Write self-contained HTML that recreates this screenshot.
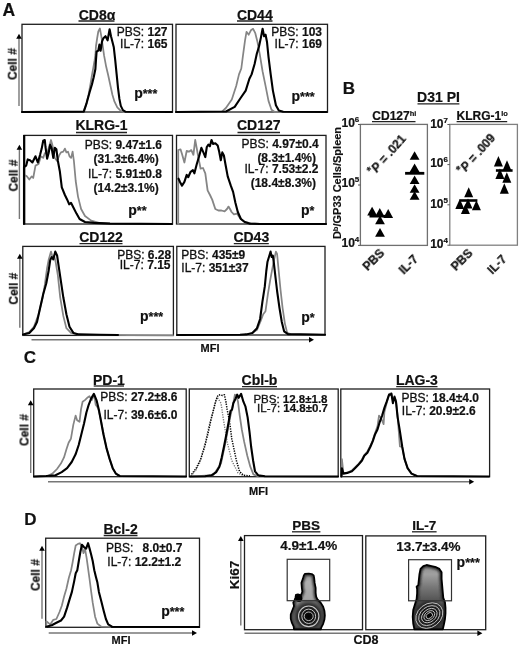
<!DOCTYPE html>
<html><head><meta charset="utf-8"><style>
html,body{margin:0;padding:0;background:#fff;}
svg{display:block;font-family:"Liberation Sans", sans-serif;} text{will-change:transform;stroke:#111;stroke-width:0.3px;} text[font-weight=bold],tspan[font-weight=bold]{stroke-width:0.2px;}
</style></head><body>
<svg width="520" height="646" viewBox="0 0 520 646">
<rect width="520" height="646" fill="#fff"/>
<text x="2.6" y="15.6" font-size="17.5" font-weight="bold" text-anchor="start" fill="#111" >A</text>
<rect x="22" y="24.3" width="150.5" height="87.7" fill="none" stroke="#1e1e1e" stroke-width="1.3"/>
<rect x="176" y="24.3" width="151.5" height="87.7" fill="none" stroke="#1e1e1e" stroke-width="1.3"/>
<text x="97" y="19.5" font-size="14" font-weight="bold" text-anchor="middle" fill="#111" >CD8α</text>
<line x1="78.5" y1="21" x2="114.5" y2="21" stroke="#222" stroke-width="1.3" />
<text x="254.8" y="19.5" font-size="14" font-weight="bold" text-anchor="middle" fill="#111" >CD44</text>
<line x1="237" y1="21" x2="272.5" y2="21" stroke="#222" stroke-width="1.3" />
<line x1="19" y1="37.8" x2="19" y2="106" stroke="#777" stroke-width="1.4" />
<path d="M16.2,38.8 L19,33.8 L21.8,38.8 Z" fill="#000"/>
<text x="16.7" y="64" font-size="12" font-weight="bold" text-anchor="middle" fill="#111" transform="rotate(-90 16.7 64)">Cell #</text>
<path d="M22.0,112.0 L83.5,111.6 L86.0,105.0 L88.5,95.0 L90.5,84.0 L92.0,74.9 L93.1,69.0 L94.5,61.0 L95.4,55.0 L96.0,46.0 L97.2,38.0 L98.3,31.5 L99.9,28.5 L101.3,36.2 L102.7,45.9 L104.1,55.7 L106.2,66.8 L108.2,75.2 L110.3,85.0 L112.4,94.7 L114.5,101.7 L117.3,107.3 L120.8,110.8 L123.6,112.0 L172.0,112.2" fill="none" stroke="#858585" stroke-width="1.75" stroke-linejoin="round" stroke-linecap="round" />
<path d="M22.0,112.0 L83.8,111.6 L86.7,102.8 L89.6,92.3 L92.0,84.2 L93.7,77.2 L95.4,69.0 L96.0,59.8 L96.6,51.6 L98.3,50.5 L99.4,44.6 L100.6,50.8 L102.0,41.7 L103.4,38.2 L105.5,36.2 L107.6,40.3 L109.6,29.2 L111.0,36.2 L112.4,41.7 L113.8,47.3 L115.2,59.9 L116.6,73.8 L118.0,87.8 L119.4,98.9 L120.8,105.9 L122.9,110.1 L125.7,111.8 L172.0,112.0" fill="none" stroke="#000" stroke-width="2.1" stroke-linejoin="round" stroke-linecap="round" />
<path d="M176.0,112.0 L222.0,111.7 L225.9,108.0 L231.8,99.4 L236.2,86.0 L239.0,74.4 L241.3,68.5 L242.8,56.8 L245.0,40.6 L246.5,31.8 L248.7,34.7 L250.9,30.3 L253.1,28.8 L255.3,33.2 L257.5,42.0 L259.7,53.8 L262.6,71.5 L265.6,86.2 L268.5,100.9 L271.5,109.7 L274.4,111.8 L327.0,112.0" fill="none" stroke="#858585" stroke-width="1.75" stroke-linejoin="round" stroke-linecap="round" />
<path d="M176.0,112.0 L226.0,111.5 L234.7,106.8 L240.6,98.0 L245.7,90.6 L249.4,78.8 L251.6,74.4 L254.6,64.0 L256.8,53.8 L259.0,46.5 L260.9,37.6 L262.6,28.8 L264.1,36.2 L265.6,34.7 L267.0,42.0 L268.5,56.8 L270.7,74.4 L272.9,90.6 L275.9,105.3 L278.8,110.4 L283.2,111.8 L327.0,112.0" fill="none" stroke="#000" stroke-width="2.1" stroke-linejoin="round" stroke-linecap="round" />
<text x="167.5" y="36.3" font-size="12" font-weight="normal" text-anchor="end" fill="#111" >PBS: <tspan font-weight="bold">127</tspan></text>
<text x="167.5" y="48" font-size="12" font-weight="normal" text-anchor="end" fill="#111" >IL-7: <tspan font-weight="bold">165</tspan></text>
<text x="134.2" y="97.8" font-size="14" font-weight="bold" text-anchor="start" fill="#111" >p<tspan font-size="12.5">***</tspan></text>
<text x="322" y="36.3" font-size="12" font-weight="normal" text-anchor="end" fill="#111" >PBS: <tspan font-weight="bold">103</tspan></text>
<text x="322" y="48" font-size="12" font-weight="normal" text-anchor="end" fill="#111" >IL-7: <tspan font-weight="bold">169</tspan></text>
<text x="291.5" y="101" font-size="14" font-weight="bold" text-anchor="start" fill="#111" >p<tspan font-size="12.5">***</tspan></text>
<rect x="24" y="135.4" width="148.5" height="88.6" fill="none" stroke="#1e1e1e" stroke-width="1.3"/>
<line x1="24.2" y1="135" x2="24.2" y2="224.5" stroke="#000" stroke-width="2.2" />
<rect x="176.5" y="135.4" width="149.5" height="88.6" fill="none" stroke="#1e1e1e" stroke-width="1.3"/>
<text x="101.5" y="130" font-size="14" font-weight="bold" text-anchor="middle" fill="#111" >KLRG-1</text>
<line x1="76" y1="132.5" x2="127" y2="132.5" stroke="#222" stroke-width="1.3" />
<text x="258.8" y="130" font-size="14" font-weight="bold" text-anchor="middle" fill="#111" >CD127</text>
<line x1="237.5" y1="132.5" x2="280" y2="132.5" stroke="#222" stroke-width="1.3" />
<line x1="19.4" y1="148.7" x2="19.4" y2="219" stroke="#777" stroke-width="1.4" />
<path d="M16.599999999999998,149.7 L19.4,144.7 L22.2,149.7 Z" fill="#000"/>
<text x="17.2" y="175.5" font-size="12" font-weight="bold" text-anchor="middle" fill="#111" transform="rotate(-90 17.2 175.5)">Cell #</text>
<path d="M24.0,224.0 L24.0,174.9 L27.0,176.4 L29.3,179.5 L31.6,176.4 L33.2,178.0 L35.5,165.6 L38.6,164.0 L40.9,156.3 L43.2,157.9 L44.8,153.2 L47.1,153.2 L49.4,145.5 L51.0,140.0 L52.5,145.5 L54.8,157.9 L57.1,161.0 L59.5,154.8 L61.0,152.4 L63.3,151.7 L64.9,148.6 L66.4,152.4 L68.0,151.7 L69.5,156.3 L71.1,157.9 L72.6,151.7 L73.9,161.0 L75.7,181.0 L78.0,196.6 L81.1,209.0 L85.0,216.0 L91.2,220.6 L99.0,222.9 L110.0,223.6 L172.0,224.0" fill="none" stroke="#858585" stroke-width="1.75" stroke-linejoin="round" stroke-linecap="round" />
<path d="M24.0,224.0 L24.0,167.0 L26.2,165.6 L27.7,159.4 L30.0,160.2 L32.4,162.5 L35.5,156.3 L37.8,162.5 L40.1,154.8 L41.7,148.6 L43.2,140.8 L44.8,140.0 L45.5,147.0 L47.1,158.6 L48.6,153.2 L50.2,144.7 L51.7,148.6 L53.3,157.9 L54.8,147.8 L56.4,149.3 L57.9,161.0 L59.9,171.8 L61.8,187.3 L64.9,195.0 L67.2,199.7 L69.2,204.3 L71.0,202.8 L73.4,207.4 L76.5,213.6 L79.6,219.0 L85.0,222.0 L94.3,222.9 L110.0,223.6 L172.0,224.0" fill="none" stroke="#000" stroke-width="2.1" stroke-linejoin="round" stroke-linecap="round" />
<path d="M178.2,224.0 L178.2,150.0 L180.5,149.3 L182.0,154.0 L184.4,162.5 L186.7,150.9 L189.0,151.7 L191.3,150.1 L193.4,154.8 L195.2,140.0 L196.8,148.6 L198.3,157.1 L200.6,168.7 L203.0,168.0 L205.3,173.3 L207.6,190.4 L210.0,195.0 L212.2,199.6 L215.3,209.0 L218.4,210.5 L221.5,210.5 L224.6,211.3 L227.0,209.0 L228.5,206.6 L230.0,209.0 L231.6,212.0 L233.9,214.4 L237.0,213.6 L240.1,218.2 L244.7,222.0 L251.0,223.3 L260.0,223.8 L326.0,224.0" fill="none" stroke="#858585" stroke-width="1.8" stroke-linejoin="round" stroke-linecap="round" />
<path d="M178.5,178.7 L180.0,182.0 L182.0,185.7 L184.4,181.9 L186.7,174.9 L188.2,177.2 L190.6,171.8 L192.9,170.2 L194.4,173.3 L196.8,164.0 L199.1,156.3 L201.4,147.8 L203.7,153.2 L205.3,157.1 L206.8,147.0 L208.4,144.7 L209.9,146.3 L211.5,140.0 L213.0,143.9 L215.3,143.2 L217.7,145.5 L219.2,151.7 L220.8,160.2 L222.3,152.4 L223.9,155.5 L225.4,164.0 L227.7,176.4 L230.8,185.7 L233.1,191.9 L235.4,202.8 L237.8,212.0 L240.9,219.0 L244.7,222.0 L249.4,223.6 L260.0,224.0 L326.0,224.0" fill="none" stroke="#000" stroke-width="2.1" stroke-linejoin="round" stroke-linecap="round" />
<text x="162" y="148.7" font-size="12" font-weight="normal" text-anchor="end" fill="#111" >PBS: <tspan font-weight="bold">9.47±1.6</tspan></text>
<text x="158.8" y="163" font-size="12" font-weight="normal" text-anchor="end" fill="#111" ><tspan font-weight="bold">(31.3±6.4%)</tspan></text>
<text x="162" y="178" font-size="12" font-weight="normal" text-anchor="end" fill="#111" >IL-7: <tspan font-weight="bold">5.91±0.8</tspan></text>
<text x="158.8" y="192" font-size="12" font-weight="normal" text-anchor="end" fill="#111" ><tspan font-weight="bold">(14.2±3.1%)</tspan></text>
<text x="128.3" y="214.6" font-size="14" font-weight="bold" text-anchor="start" fill="#111" >p<tspan font-size="12.5">**</tspan></text>
<text x="318.8" y="147.5" font-size="12" font-weight="normal" text-anchor="end" fill="#111" >PBS: <tspan font-weight="bold">4.97±0.4</tspan></text>
<text x="316" y="161.8" font-size="12" font-weight="normal" text-anchor="end" fill="#111" ><tspan font-weight="bold">(8.3±1.4%)</tspan></text>
<text x="318.5" y="173.3" font-size="12" font-weight="normal" text-anchor="end" fill="#111" >IL-7: <tspan font-weight="bold">7.53±2.2</tspan></text>
<text x="316" y="186.5" font-size="12" font-weight="normal" text-anchor="end" fill="#111" ><tspan font-weight="bold">(18.4±8.3%)</tspan></text>
<text x="301" y="214.6" font-size="14" font-weight="bold" text-anchor="start" fill="#111" >p<tspan font-size="12.5">*</tspan></text>
<rect x="22.8" y="246.4" width="150.6" height="88.99999999999997" fill="none" stroke="#1e1e1e" stroke-width="1.3"/>
<rect x="176.8" y="246.4" width="148.2" height="88.6" fill="none" stroke="#1e1e1e" stroke-width="1.3"/>
<text x="101" y="242" font-size="14" font-weight="bold" text-anchor="middle" fill="#111" >CD122</text>
<line x1="79.5" y1="243.7" x2="122.5" y2="243.7" stroke="#222" stroke-width="1.3" />
<text x="251.3" y="242" font-size="14" font-weight="bold" text-anchor="middle" fill="#111" >CD43</text>
<line x1="233.8" y1="243.7" x2="268.8" y2="243.7" stroke="#222" stroke-width="1.3" />
<line x1="19.8" y1="257.8" x2="19.8" y2="327.8" stroke="#777" stroke-width="1.4" />
<path d="M17.0,258.8 L19.8,253.8 L22.6,258.8 Z" fill="#000"/>
<text x="17.5" y="288.7" font-size="12" font-weight="bold" text-anchor="middle" fill="#111" transform="rotate(-90 17.5 288.7)">Cell #</text>
<path d="M23.0,334.5 L29.3,332.0 L33.9,326.7 L38.6,314.3 L42.4,298.8 L44.8,284.9 L47.1,267.9 L48.6,260.1 L51.0,251.6 L52.5,257.0 L54.0,255.5 L55.6,261.7 L57.9,275.6 L60.2,297.3 L63.3,315.9 L66.4,328.2 L71.0,332.9 L78.8,334.6 L130.0,335.2 L173.0,335.4" fill="none" stroke="#858585" stroke-width="1.75" stroke-linejoin="round" stroke-linecap="round" />
<path d="M23.0,334.5 L29.3,332.9 L33.9,328.2 L37.0,322.0 L40.1,308.0 L43.2,294.2 L46.3,283.3 L48.6,271.0 L50.2,260.1 L51.7,257.0 L53.3,259.3 L55.3,251.6 L57.1,255.5 L58.7,266.3 L61.0,281.8 L63.3,297.3 L66.4,314.3 L69.5,326.7 L73.4,332.9 L78.8,334.4 L100.0,334.8 L118.0,335.0" fill="none" stroke="#000" stroke-width="2.1" stroke-linejoin="round" stroke-linecap="round" />
<path d="M177.0,335.0 L245.0,334.7 L250.8,334.0 L257.0,329.8 L260.9,320.5 L263.2,314.3 L265.5,311.2 L267.9,294.2 L270.2,280.2 L272.2,269.4 L274.0,260.1 L275.9,251.6 L277.1,254.0 L278.7,271.0 L280.5,289.5 L282.6,308.1 L284.9,323.6 L287.2,332.9 L291.0,334.4 L325.0,334.8" fill="none" stroke="#858585" stroke-width="1.75" stroke-linejoin="round" stroke-linecap="round" />
<path d="M177.0,335.0 L240.0,334.7 L246.2,334.4 L252.4,332.9 L257.0,328.2 L260.1,319.0 L262.4,301.9 L264.8,286.4 L266.3,271.0 L267.5,261.7 L269.4,255.5 L270.6,251.6 L271.7,257.0 L272.8,255.5 L273.7,261.7 L275.3,275.6 L277.1,291.0 L279.5,308.1 L281.8,322.0 L284.1,331.3 L288.0,334.1 L325.0,334.8" fill="none" stroke="#000" stroke-width="2.1" stroke-linejoin="round" stroke-linecap="round" />
<text x="171.2" y="258.7" font-size="12" font-weight="normal" text-anchor="end" fill="#111" >PBS: <tspan font-weight="bold">6.28</tspan></text>
<text x="170.5" y="268.7" font-size="12" font-weight="normal" text-anchor="end" fill="#111" >IL-7: <tspan font-weight="bold">7.15</tspan></text>
<text x="140" y="320.5" font-size="14" font-weight="bold" text-anchor="start" fill="#111" >p<tspan font-size="12.5">***</tspan></text>
<text x="181.3" y="258.7" font-size="12" font-weight="normal" text-anchor="start" fill="#111" >PBS: <tspan font-weight="bold">435±9</tspan></text>
<text x="181.3" y="272.3" font-size="12" font-weight="normal" text-anchor="start" fill="#111" >IL-7: <tspan font-weight="bold">351±37</tspan></text>
<text x="301.2" y="322" font-size="14" font-weight="bold" text-anchor="start" fill="#111" >p<tspan font-size="12.5">*</tspan></text>
<line x1="31.5" y1="339.7" x2="310" y2="339.7" stroke="#777" stroke-width="1.4" />
<path d="M309,336.9 L314,339.7 L309,342.5 Z" fill="#000"/>
<text x="210" y="352.3" font-size="11" font-weight="bold" text-anchor="middle" fill="#111" >MFI</text>
<text x="342.8" y="93.6" font-size="17" font-weight="bold" text-anchor="start" fill="#111" >B</text>
<text x="438.5" y="102.2" font-size="14" font-weight="bold" text-anchor="middle" fill="#111" >D31 PI</text>
<line x1="417.5" y1="103.8" x2="459.4" y2="103.8" stroke="#222" stroke-width="1.3" />
<text x="372.3" y="120" font-size="12" font-weight="bold" text-anchor="start" fill="#111" >CD127<tspan font-size="7.5" dy="-4">hi</tspan></text>
<line x1="372" y1="121.6" x2="415.5" y2="121.6" stroke="#222" stroke-width="1.3" />
<text x="456.6" y="119.9" font-size="12" font-weight="bold" text-anchor="start" fill="#111" >KLRG-1<tspan font-size="7.5" dy="-4">lo</tspan></text>
<line x1="456.6" y1="121.6" x2="507.2" y2="121.6" stroke="#222" stroke-width="1.3" />
<rect x="360.4" y="124.4" width="67.0" height="121.0" fill="none" stroke="#707070" stroke-width="1.3"/>
<rect x="449.8" y="124.4" width="67.59999999999997" height="120.79999999999998" fill="none" stroke="#808080" stroke-width="1.3"/>
<text x="359.3" y="126.5" font-size="12" font-weight="bold" text-anchor="end" fill="#111" >10<tspan font-size="8" dy="-5">6</tspan></text>
<text x="359.3" y="187.2" font-size="12" font-weight="bold" text-anchor="end" fill="#111" >10<tspan font-size="8" dy="-5">5</tspan></text>
<text x="359.3" y="246.8" font-size="12" font-weight="bold" text-anchor="end" fill="#111" >10<tspan font-size="8" dy="-5">4</tspan></text>
<text x="448" y="127.6" font-size="12" font-weight="bold" text-anchor="end" fill="#111" >10<tspan font-size="8" dy="-5">7</tspan></text>
<text x="448" y="167.4" font-size="12" font-weight="bold" text-anchor="end" fill="#111" >10<tspan font-size="8" dy="-5">6</tspan></text>
<text x="448" y="208" font-size="12" font-weight="bold" text-anchor="end" fill="#111" >10<tspan font-size="8" dy="-5">5</tspan></text>
<text x="448" y="248" font-size="12" font-weight="bold" text-anchor="end" fill="#111" >10<tspan font-size="8" dy="-5">4</tspan></text>
<line x1="358" y1="124.5" x2="360.4" y2="124.5" stroke="#555" stroke-width="1" />
<line x1="358" y1="185" x2="360.4" y2="185" stroke="#555" stroke-width="1" />
<line x1="358" y1="245.4" x2="360.4" y2="245.4" stroke="#555" stroke-width="1" />
<line x1="447.4" y1="124.5" x2="449.8" y2="124.5" stroke="#555" stroke-width="1" />
<line x1="447.4" y1="164.6" x2="449.8" y2="164.6" stroke="#555" stroke-width="1" />
<line x1="447.4" y1="204.8" x2="449.8" y2="204.8" stroke="#555" stroke-width="1" />
<line x1="447.4" y1="245.2" x2="449.8" y2="245.2" stroke="#555" stroke-width="1" />
<text x="341" y="183" font-size="11" font-weight="bold" text-anchor="middle" fill="#111" transform="rotate(-90 341 183)">D<tspan font-size="7.5" dy="-3.5">b</tspan><tspan dy="3.5">/GP33 Cells/Spleen</tspan></text>
<path d="M367.2,215.5 L372.1,206.7 L377.0,215.5 Z" fill="#000"/>
<path d="M374.9,216.9 L379.8,208.1 L384.7,216.9 Z" fill="#000"/>
<path d="M383.3,217.9 L388.2,209.1 L393.1,217.9 Z" fill="#000"/>
<path d="M375.1,224.3 L380.0,215.5 L384.9,224.3 Z" fill="#000"/>
<path d="M375.1,236.7 L380.0,227.9 L384.9,236.7 Z" fill="#000"/>
<line x1="369.5" y1="216.2" x2="391" y2="216.2" stroke="#000" stroke-width="2.6" />
<path d="M409.7,159.8 L414.6,151.2 L419.5,159.8 Z" fill="#000"/>
<path d="M409.7,172.1 L414.6,163.5 L419.5,172.1 Z" fill="#000"/>
<path d="M409.7,184.1 L414.6,175.5 L419.5,184.1 Z" fill="#000"/>
<path d="M409.7,192.8 L414.6,184.2 L419.5,192.8 Z" fill="#000"/>
<path d="M409.7,199.8 L414.6,191.2 L419.5,199.8 Z" fill="#000"/>
<line x1="405.1" y1="173.3" x2="424.3" y2="173.3" stroke="#000" stroke-width="2.8" />
<path d="M464.2,197.3 L468.7,187.3 L473.2,197.3 Z" fill="#000"/>
<path d="M455.3,208.9 L459.8,198.9 L464.3,208.9 Z" fill="#000"/>
<path d="M471.9,210.2 L476.4,200.2 L480.9,210.2 Z" fill="#000"/>
<path d="M460.9,214.0 L465.4,204.0 L469.9,214.0 Z" fill="#000"/>
<path d="M463.5,208.5 L468.0,198.5 L472.5,208.5 Z" fill="#000"/>
<line x1="459.5" y1="200.5" x2="477.4" y2="200.5" stroke="#000" stroke-width="2.6" />
<path d="M493.9,166.4 L498.4,155.9 L502.9,166.4 Z" fill="#000"/>
<path d="M502.5,170.7 L507.0,160.2 L511.5,170.7 Z" fill="#000"/>
<path d="M495.4,178.9 L499.9,168.4 L504.4,178.9 Z" fill="#000"/>
<path d="M502.3,182.8 L506.8,172.2 L511.3,182.8 Z" fill="#000"/>
<path d="M499.8,193.8 L504.3,183.2 L508.8,193.8 Z" fill="#000"/>
<line x1="495.9" y1="170.5" x2="512.6" y2="170.5" stroke="#000" stroke-width="2.6" />
<text x="390" y="157.5" font-size="12" font-weight="bold" fill="#111" transform="rotate(-48.5 390 157.5)" text-anchor="middle"><tspan font-size="11" dy="-2.5">*</tspan><tspan dy="2.5" font-style="italic">P</tspan> = .021</text>
<text x="479.5" y="156.8" font-size="12" font-weight="bold" fill="#111" transform="rotate(-48.5 479.5 156.8)" text-anchor="middle"><tspan font-size="11" dy="-2.5">*</tspan><tspan dy="2.5" font-style="italic">P</tspan> = .009</text>
<text x="385.2" y="254" font-size="12" font-weight="bold" fill="#111" text-anchor="end" transform="rotate(-45 385.2 254)">PBS</text>
<text x="419" y="260" font-size="12" font-weight="bold" fill="#111" text-anchor="end" transform="rotate(-45 419 260)">IL-7</text>
<text x="473.5" y="254" font-size="12" font-weight="bold" fill="#111" text-anchor="end" transform="rotate(-45 473.5 254)">PBS</text>
<text x="507.5" y="260" font-size="12" font-weight="bold" fill="#111" text-anchor="end" transform="rotate(-45 507.5 260)">IL-7</text>
<text x="23.8" y="363" font-size="17" font-weight="bold" text-anchor="start" fill="#111" >C</text>
<rect x="33.7" y="389" width="152.5" height="87.69999999999999" fill="none" stroke="#1e1e1e" stroke-width="1.3"/>
<rect x="189.3" y="389" width="148.89999999999998" height="87.69999999999999" fill="none" stroke="#1e1e1e" stroke-width="1.3"/>
<rect x="340.8" y="389" width="148.8" height="87.69999999999999" fill="none" stroke="#1e1e1e" stroke-width="1.3"/>
<text x="108.9" y="384.5" font-size="14" font-weight="bold" text-anchor="middle" fill="#111" >PD-1</text>
<line x1="93.7" y1="386" x2="124" y2="386" stroke="#222" stroke-width="1.3" />
<text x="259.5" y="385" font-size="14" font-weight="bold" text-anchor="middle" fill="#111" >Cbl-b</text>
<line x1="242" y1="386.7" x2="277" y2="386.7" stroke="#222" stroke-width="1.3" />
<text x="416.9" y="385" font-size="14" font-weight="bold" text-anchor="middle" fill="#111" >LAG-3</text>
<line x1="396.2" y1="386.7" x2="437.5" y2="386.7" stroke="#222" stroke-width="1.3" />
<line x1="30.7" y1="404.3" x2="30.7" y2="473" stroke="#777" stroke-width="1.4" />
<path d="M27.9,405.3 L30.7,400.3 L33.5,405.3 Z" fill="#000"/>
<text x="28.5" y="430" font-size="12" font-weight="bold" text-anchor="middle" fill="#111" transform="rotate(-90 28.5 430)">Cell #</text>
<path d="M34.0,476.5 L47.7,476.0 L52.4,473.6 L57.0,469.0 L60.9,463.6 L64.0,457.4 L66.3,449.7 L68.6,442.7 L70.9,438.8 L73.3,424.9 L75.6,415.6 L77.1,420.2 L79.5,421.8 L81.0,409.4 L82.6,401.7 L84.9,400.1 L87.2,397.8 L89.5,396.2 L91.8,400.1 L94.2,394.7 L95.7,404.8 L98.0,407.9 L100.3,417.1 L102.7,429.5 L106.5,448.1 L109.6,458.9 L112.7,468.2 L115.8,473.6 L119.7,476.0" fill="none" stroke="#858585" stroke-width="1.75" stroke-linejoin="round" stroke-linecap="round" />
<path d="M34.0,476.5 L46.2,476.0 L55.5,475.2 L61.7,472.1 L67.1,468.2 L71.7,462.0 L75.6,454.3 L78.7,445.0 L81.8,432.6 L84.1,423.3 L86.4,412.5 L88.7,404.8 L91.1,398.6 L93.9,393.9 L96.5,400.1 L98.8,409.4 L101.1,421.8 L103.4,434.2 L106.5,448.1 L109.6,458.9 L112.7,468.2 L115.8,473.6 L119.7,476.0 L186.0,476.5" fill="none" stroke="#000" stroke-width="2.1" stroke-linejoin="round" stroke-linecap="round" />
<path d="M191.0,476.0 L196.0,470.0 L200.0,462.0 L205.5,441.9 L209.0,426.0 L213.2,411.0 L217.0,397.0 L221.0,403.2 L223.3,418.7 L227.1,441.9 L231.8,460.5 L238.0,472.9 L244.0,476.0" fill="none" stroke="#777" stroke-width="1.4" stroke-linejoin="round" stroke-linecap="butt" stroke-dasharray="1.2 1.3"/>
<path d="M191.5,474.4 L196.2,468.2 L200.8,458.9 L204.7,446.5 L207.8,434.2 L210.9,420.2 L213.2,411.0 L215.5,401.7 L217.9,395.5 L220.2,394.7 L222.5,395.5 L224.4,394.7 L225.9,401.7 L227.1,409.4 L228.7,417.1 L230.2,426.4 L231.8,438.8 L234.1,449.7 L236.4,460.5 L239.5,471.3 L243.4,475.2 L250.0,476.0" fill="none" stroke="#000" stroke-width="1.5" stroke-linejoin="round" stroke-linecap="butt" stroke-dasharray="1.3 1.2"/>
<path d="M190.0,476.5 L213.2,475.2 L221.0,463.6 L225.6,441.9 L230.2,417.1 L233.3,403.2 L234.9,394.7 L236.4,395.5 L238.0,401.7 L239.5,414.0 L241.8,429.5 L244.2,441.9 L247.3,455.8 L250.3,466.7 L253.4,474.4 L258.0,476.3" fill="none" stroke="#858585" stroke-width="1.75" stroke-linejoin="round" stroke-linecap="round" />
<path d="M190.0,476.5 L205.0,476.2 L211.7,475.2 L216.3,472.1 L219.4,466.7 L221.7,457.4 L224.0,446.5 L226.4,434.2 L228.7,421.8 L230.5,411.0 L232.1,409.4 L233.3,403.2 L235.6,398.6 L237.2,394.7 L238.7,397.8 L241.1,393.9 L243.4,401.7 L245.4,406.3 L247.6,417.1 L249.6,432.6 L251.1,446.5 L253.1,460.5 L255.0,471.3 L258.1,475.2 L265.0,476.3 L338.0,476.5" fill="none" stroke="#000" stroke-width="2.1" stroke-linejoin="round" stroke-linecap="round" />
<path d="M341.5,476.5 L341.9,459.0 L343.4,473.0 L347.3,472.5 L351.9,470.5 L355.0,467.5 L358.1,464.5 L362.0,459.5 L364.3,455.0 L367.4,451.5 L370.5,445.5 L372.8,440.0 L375.1,433.0 L377.5,426.0 L379.0,415.6 L381.0,418.0 L383.6,424.1 L384.4,412.0 L386.7,403.0 L389.1,394.0 L391.4,393.0 L392.9,400.0 L394.5,396.0 L396.0,401.0 L397.6,416.0 L399.9,446.5 L402.2,447.0 L404.5,458.9 L407.6,468.2 L411.5,473.6 L416.9,476.0" fill="none" stroke="#858585" stroke-width="1.75" stroke-linejoin="round" stroke-linecap="round" />
<path d="M341.5,476.5 L341.9,468.2 L343.4,473.6 L347.3,472.9 L351.9,471.3 L355.0,468.2 L358.1,465.1 L362.0,460.5 L364.3,455.8 L367.4,452.7 L370.5,446.5 L372.8,441.1 L375.1,434.2 L377.5,429.5 L379.8,421.8 L382.1,415.6 L384.4,407.9 L386.7,401.7 L389.1,394.7 L391.4,393.9 L392.9,403.2 L394.5,397.0 L396.0,401.7 L397.6,417.1 L399.9,431.1 L402.2,446.5 L404.5,458.9 L407.6,468.2 L411.5,473.6 L416.9,476.0 L489.0,476.5" fill="none" stroke="#000" stroke-width="2.1" stroke-linejoin="round" stroke-linecap="round" />
<text x="177.5" y="400.5" font-size="12" font-weight="normal" text-anchor="end" fill="#111" >PBS: <tspan font-weight="bold">27.2±8.6</tspan></text>
<text x="177.5" y="418.7" font-size="12" font-weight="normal" text-anchor="end" fill="#111" >IL-7: <tspan font-weight="bold">39.6±6.0</tspan></text>
<text x="327.5" y="402.6" font-size="11.5" font-weight="normal" text-anchor="end" fill="#111" >PBS: <tspan font-weight="bold">12.8±1.8</tspan></text>
<text x="328" y="411.8" font-size="11.5" font-weight="normal" text-anchor="end" fill="#111" >IL-7: <tspan font-weight="bold">14.8±0.7</tspan></text>
<text x="401.6" y="401.5" font-size="12" font-weight="normal" text-anchor="start" fill="#111" >PBS: <tspan font-weight="bold">18.4±4.0</tspan></text>
<text x="401.8" y="415.4" font-size="12" font-weight="normal" text-anchor="start" fill="#111" >IL-7: <tspan font-weight="bold">20.9±2.6</tspan></text>
<line x1="48" y1="481.7" x2="470.2" y2="481.7" stroke="#777" stroke-width="1.4" />
<path d="M469.2,478.9 L474.2,481.7 L469.2,484.5 Z" fill="#000"/>
<text x="258.5" y="495.3" font-size="11" font-weight="bold" text-anchor="middle" fill="#111" >MFI</text>
<text x="24.2" y="525.4" font-size="17" font-weight="bold" text-anchor="start" fill="#111" >D</text>
<rect x="45.7" y="538.2" width="153.8" height="89.09999999999991" fill="none" stroke="#1e1e1e" stroke-width="1.3"/>
<text x="120.6" y="533.7" font-size="14" font-weight="bold" text-anchor="middle" fill="#111" >Bcl-2</text>
<line x1="103.7" y1="535.5" x2="137.5" y2="535.5" stroke="#222" stroke-width="1.3" />
<line x1="42" y1="549.7" x2="42" y2="618.7" stroke="#777" stroke-width="1.4" />
<path d="M39.2,550.7 L42,545.7 L44.8,550.7 Z" fill="#000"/>
<text x="39.7" y="575" font-size="12" font-weight="bold" text-anchor="middle" fill="#111" transform="rotate(-90 39.7 575)">Cell #</text>
<path d="M46.3,627.0 L46.3,621.3 L50.2,624.4 L53.3,619.8 L56.4,619.0 L59.5,612.0 L61.8,605.8 L64.1,596.5 L66.4,588.8 L68.8,578.0 L71.1,570.2 L72.6,562.5 L74.2,553.2 L75.7,545.5 L78.0,543.9 L79.9,543.2 L81.9,547.0 L83.5,553.2 L85.0,548.6 L86.6,557.9 L88.1,568.7 L89.6,579.5 L91.2,591.9 L92.7,602.7 L95.1,616.7 L97.4,623.6 L101.3,626.7 L110.0,627.0" fill="none" stroke="#858585" stroke-width="1.75" stroke-linejoin="round" stroke-linecap="round" />
<path d="M46.3,626.7 L51.7,625.2 L56.4,622.8 L61.0,620.5 L64.1,616.7 L67.2,607.4 L69.5,599.6 L71.9,591.9 L74.2,581.1 L75.7,573.3 L77.3,570.2 L78.8,561.0 L80.4,551.7 L81.9,544.7 L83.9,547.0 L86.1,548.6 L88.1,543.2 L89.6,548.6 L91.2,554.8 L92.7,561.0 L94.3,570.2 L95.8,576.4 L97.4,582.6 L98.9,591.9 L101.3,601.2 L103.6,610.5 L105.9,619.0 L108.2,624.4 L112.1,626.7 L199.0,627.0" fill="none" stroke="#000" stroke-width="2.1" stroke-linejoin="round" stroke-linecap="round" />
<text x="106" y="552" font-size="12" font-weight="normal" text-anchor="start" fill="#111" >PBS:</text>
<text x="182.5" y="552" font-size="12" font-weight="bold" text-anchor="end" fill="#111" >8.0±0.7</text>
<text x="181.3" y="565.7" font-size="12" font-weight="normal" text-anchor="end" fill="#111" >IL-7: <tspan font-weight="bold">12.2±1.2</tspan></text>
<text x="161.2" y="615.5" font-size="14" font-weight="bold" text-anchor="start" fill="#111" >p<tspan font-size="12.5">***</tspan></text>
<line x1="48.7" y1="633" x2="193" y2="633" stroke="#777" stroke-width="1.4" />
<path d="M192,630.2 L197,633 L192,635.8 Z" fill="#000"/>
<text x="121" y="643.8" font-size="11" font-weight="bold" text-anchor="middle" fill="#111" >MFI</text>
<rect x="244.5" y="535.6" width="118.0" height="94.10000000000002" fill="none" stroke="#1e1e1e" stroke-width="1.3"/>
<rect x="365.8" y="535.9" width="119.89999999999998" height="93.80000000000007" fill="none" stroke="#1e1e1e" stroke-width="1.3"/>
<text x="306.2" y="530.3" font-size="13.5" font-weight="bold" text-anchor="middle" fill="#111" >PBS</text>
<line x1="292" y1="531.8" x2="320.4" y2="531.8" stroke="#222" stroke-width="1.3" />
<text x="424.3" y="530.3" font-size="13.5" font-weight="bold" text-anchor="middle" fill="#111" >IL-7</text>
<line x1="412" y1="531.8" x2="436.6" y2="531.8" stroke="#222" stroke-width="1.3" />
<text x="308.8" y="549.8" font-size="13.5" font-weight="bold" text-anchor="middle" fill="#111" >4.9±1.4%</text>
<text x="428.4" y="551.2" font-size="13.5" font-weight="bold" text-anchor="middle" fill="#111" >13.7±3.4%</text>
<text x="456.6" y="566.5" font-size="14" font-weight="bold" text-anchor="start" fill="#111" >p<tspan font-size="12.5">***</tspan></text>
<line x1="240.8" y1="540" x2="240.8" y2="625.5" stroke="#777" stroke-width="1.4" />
<path d="M238.0,541 L240.8,536 L243.60000000000002,541 Z" fill="#000"/>
<text x="239" y="575" font-size="13.5" font-weight="bold" text-anchor="middle" fill="#111" transform="rotate(-90 239 575)">Ki67</text>
<line x1="244.5" y1="633.3" x2="478.4" y2="633.3" stroke="#777" stroke-width="1.4" />
<path d="M477.4,630.5 L482.4,633.3 L477.4,636.0999999999999 Z" fill="#000"/>
<text x="366" y="643.8" font-size="12.5" font-weight="bold" text-anchor="middle" fill="#111" >CD8</text>
<defs>
<filter id="bl" x="-20%" y="-20%" width="140%" height="140%"><feGaussianBlur stdDeviation="0.9"/></filter>
<linearGradient id="gP" gradientUnits="userSpaceOnUse" x1="0" y1="573" x2="0" y2="602">
<stop offset="0" stop-color="#8a8a8a"/><stop offset="0.3" stop-color="#b0b0b0"/><stop offset="0.9" stop-color="#a5a5a5"/><stop offset="1" stop-color="#777"/></linearGradient>
<radialGradient id="rP" gradientUnits="userSpaceOnUse" cx="308.6" cy="616.2" r="17">
<stop offset="0" stop-color="#000"/><stop offset="0.45" stop-color="#1a1a1a"/><stop offset="0.7" stop-color="#333"/><stop offset="0.9" stop-color="#666"/><stop offset="1" stop-color="#888"/></radialGradient>
<linearGradient id="gI" gradientUnits="userSpaceOnUse" x1="0" y1="565" x2="0" y2="602">
<stop offset="0" stop-color="#8a8a8a"/><stop offset="0.25" stop-color="#a0a0a0"/><stop offset="0.6" stop-color="#777"/><stop offset="1" stop-color="#505050"/></linearGradient>
<radialGradient id="rI" gradientUnits="userSpaceOnUse" cx="429.5" cy="615.5" r="19">
<stop offset="0" stop-color="#000"/><stop offset="0.45" stop-color="#1a1a1a"/><stop offset="0.7" stop-color="#2e2e2e"/><stop offset="0.9" stop-color="#555"/><stop offset="1" stop-color="#777"/></radialGradient>
</defs>
<clipPath id="cpP"><path d="M304.8,573.9 L308.8,573.5 L311.8,574.0 L313.7,575.4 L314.2,577.9 L314.7,582.9 L315.7,587.8 L315.7,592.8 L316.2,596.7 L317.3,599.2 L320.7,602.6 L323.2,606.8 L324.5,611.1 L324.9,615.3 L324.5,619.5 L323.2,623.8 L321.5,627.1 L320.7,629.4 L294.0,629.4 L293.6,626.3 L291.9,622.9 L290.7,618.7 L290.7,614.5 L292.3,610.2 L294.0,606.0 L293.2,602.6 L294.5,600.1 L295.4,597.7 L295.9,594.8 L297.9,594.3 L300.9,595.3 L302.3,591.8 L301.8,587.8 L301.4,582.9 L302.8,578.9 L303.8,575.4 Z"/></clipPath>
<path d="M304.8,573.9 L308.8,573.5 L311.8,574.0 L313.7,575.4 L314.2,577.9 L314.7,582.9 L315.7,587.8 L315.7,592.8 L316.2,596.7 L317.3,599.2 L320.7,602.6 L323.2,606.8 L324.5,611.1 L324.9,615.3 L324.5,619.5 L323.2,623.8 L321.5,627.1 L320.7,629.4 L294.0,629.4 L293.6,626.3 L291.9,622.9 L290.7,618.7 L290.7,614.5 L292.3,610.2 L294.0,606.0 L293.2,602.6 L294.5,600.1 L295.4,597.7 L295.9,594.8 L297.9,594.3 L300.9,595.3 L302.3,591.8 L301.8,587.8 L301.4,582.9 L302.8,578.9 L303.8,575.4 Z" fill="url(#gP)"/>
<rect x="285" y="600.6" width="45" height="30" fill="url(#rP)" clip-path="url(#cpP)"/>
<path d="M304.8,573.9 L308.8,573.5 L311.8,574.0 L313.7,575.4 L314.2,577.9 L314.7,582.9 L315.7,587.8 L315.7,592.8 L316.2,596.7 L317.3,599.2 L320.7,602.6 L323.2,606.8 L324.5,611.1 L324.9,615.3 L324.5,619.5 L323.2,623.8 L321.5,627.1 L320.7,629.4 L294.0,629.4 L293.6,626.3 L291.9,622.9 L290.7,618.7 L290.7,614.5 L292.3,610.2 L294.0,606.0 L293.2,602.6 L294.5,600.1 L295.4,597.7 L295.9,594.8 L297.9,594.3 L300.9,595.3 L302.3,591.8 L301.8,587.8 L301.4,582.9 L302.8,578.9 L303.8,575.4 Z" fill="none" stroke="#333" stroke-width="4.5" clip-path="url(#cpP)" filter="url(#bl)"/>
<path d="M304.8,573.9 L308.8,573.5 L311.8,574.0 L313.7,575.4 L314.2,577.9 L314.7,582.9 L315.7,587.8 L315.7,592.8 L316.2,596.7 L317.3,599.2 L320.7,602.6 L323.2,606.8 L324.5,611.1 L324.9,615.3 L324.5,619.5 L323.2,623.8 L321.5,627.1 L320.7,629.4 L294.0,629.4 L293.6,626.3 L291.9,622.9 L290.7,618.7 L290.7,614.5 L292.3,610.2 L294.0,606.0 L293.2,602.6 L294.5,600.1 L295.4,597.7 L295.9,594.8 L297.9,594.3 L300.9,595.3 L302.3,591.8 L301.8,587.8 L301.4,582.9 L302.8,578.9 L303.8,575.4 Z" fill="none" stroke="#000" stroke-width="1.7" stroke-linejoin="round"/>
<ellipse cx="299" cy="598.3" rx="3.4" ry="3.8" fill="#000"/>
<ellipse cx="308.7" cy="616.3" rx="10.2" ry="10.3" fill="none" stroke="#c8c8c8" stroke-width="1.1"/>
<ellipse cx="308.7" cy="616.3" rx="6.9" ry="7.2" fill="none" stroke="#c8c8c8" stroke-width="1.0"/>
<ellipse cx="308.7" cy="616.3" rx="4.5" ry="4.3" fill="none" stroke="#c8c8c8" stroke-width="0.9"/>
<clipPath id="cpI"><path d="M420.5,568.9 L423.3,566.1 L426.6,565.0 L431.6,566.1 L436.1,567.2 L439.4,568.9 L441.6,572.3 L441.6,578.9 L442.2,585.6 L442.8,592.3 L443.3,597.9 L445.0,602.3 L445.5,607.9 L445.5,613.5 L445.0,619.0 L443.9,624.6 L442.8,629.4 L414.4,629.4 L413.2,623.5 L412.7,616.8 L413.2,610.1 L414.9,604.6 L416.6,599.0 L417.1,593.4 L417.1,589.0 L416.6,586.7 L418.3,585.1 L418.8,580.0 L419.4,574.5 Z"/></clipPath>
<path d="M420.5,568.9 L423.3,566.1 L426.6,565.0 L431.6,566.1 L436.1,567.2 L439.4,568.9 L441.6,572.3 L441.6,578.9 L442.2,585.6 L442.8,592.3 L443.3,597.9 L445.0,602.3 L445.5,607.9 L445.5,613.5 L445.0,619.0 L443.9,624.6 L442.8,629.4 L414.4,629.4 L413.2,623.5 L412.7,616.8 L413.2,610.1 L414.9,604.6 L416.6,599.0 L417.1,593.4 L417.1,589.0 L416.6,586.7 L418.3,585.1 L418.8,580.0 L419.4,574.5 Z" fill="url(#gI)"/>
<rect x="405" y="600.8" width="45" height="30" fill="url(#rI)" clip-path="url(#cpI)"/>
<path d="M420.5,568.9 L423.3,566.1 L426.6,565.0 L431.6,566.1 L436.1,567.2 L439.4,568.9 L441.6,572.3 L441.6,578.9 L442.2,585.6 L442.8,592.3 L443.3,597.9 L445.0,602.3 L445.5,607.9 L445.5,613.5 L445.0,619.0 L443.9,624.6 L442.8,629.4 L414.4,629.4 L413.2,623.5 L412.7,616.8 L413.2,610.1 L414.9,604.6 L416.6,599.0 L417.1,593.4 L417.1,589.0 L416.6,586.7 L418.3,585.1 L418.8,580.0 L419.4,574.5 Z" fill="none" stroke="#2a2a2a" stroke-width="4.5" clip-path="url(#cpI)" filter="url(#bl)"/>
<path d="M420.5,568.9 L423.3,566.1 L426.6,565.0 L431.6,566.1 L436.1,567.2 L439.4,568.9 L441.6,572.3 L441.6,578.9 L442.2,585.6 L442.8,592.3 L443.3,597.9 L445.0,602.3 L445.5,607.9 L445.5,613.5 L445.0,619.0 L443.9,624.6 L442.8,629.4 L414.4,629.4 L413.2,623.5 L412.7,616.8 L413.2,610.1 L414.9,604.6 L416.6,599.0 L417.1,593.4 L417.1,589.0 L416.6,586.7 L418.3,585.1 L418.8,580.0 L419.4,574.5 Z" fill="none" stroke="#000" stroke-width="1.8" stroke-linejoin="round"/>
<ellipse cx="429.3" cy="615.6" rx="14.6" ry="11.6" fill="none" stroke="#c4c4c4" stroke-width="0.9" transform="rotate(-38 429.3 615.6)"/>
<ellipse cx="429.3" cy="615.6" rx="11.6" ry="8.8" fill="none" stroke="#c4c4c4" stroke-width="0.9" transform="rotate(-38 429.3 615.6)"/>
<ellipse cx="429.3" cy="615.6" rx="8.6" ry="6.2" fill="none" stroke="#c4c4c4" stroke-width="0.9" transform="rotate(-38 429.3 615.6)"/>
<ellipse cx="429.3" cy="615.6" rx="6" ry="4.2" fill="none" stroke="#c4c4c4" stroke-width="0.9" transform="rotate(-38 429.3 615.6)"/>
<ellipse cx="429.3" cy="615.6" rx="3.6" ry="2.6" fill="none" stroke="#c4c4c4" stroke-width="0.9" transform="rotate(-38 429.3 615.6)"/>
<rect x="287.2" y="559.3" width="42.5" height="41.40000000000009" fill="none" stroke="#333" stroke-width="1.2"/>
<rect x="408.6" y="559.7" width="42.89999999999998" height="41.09999999999991" fill="none" stroke="#333" stroke-width="1.2"/>
</svg>
</body></html>
